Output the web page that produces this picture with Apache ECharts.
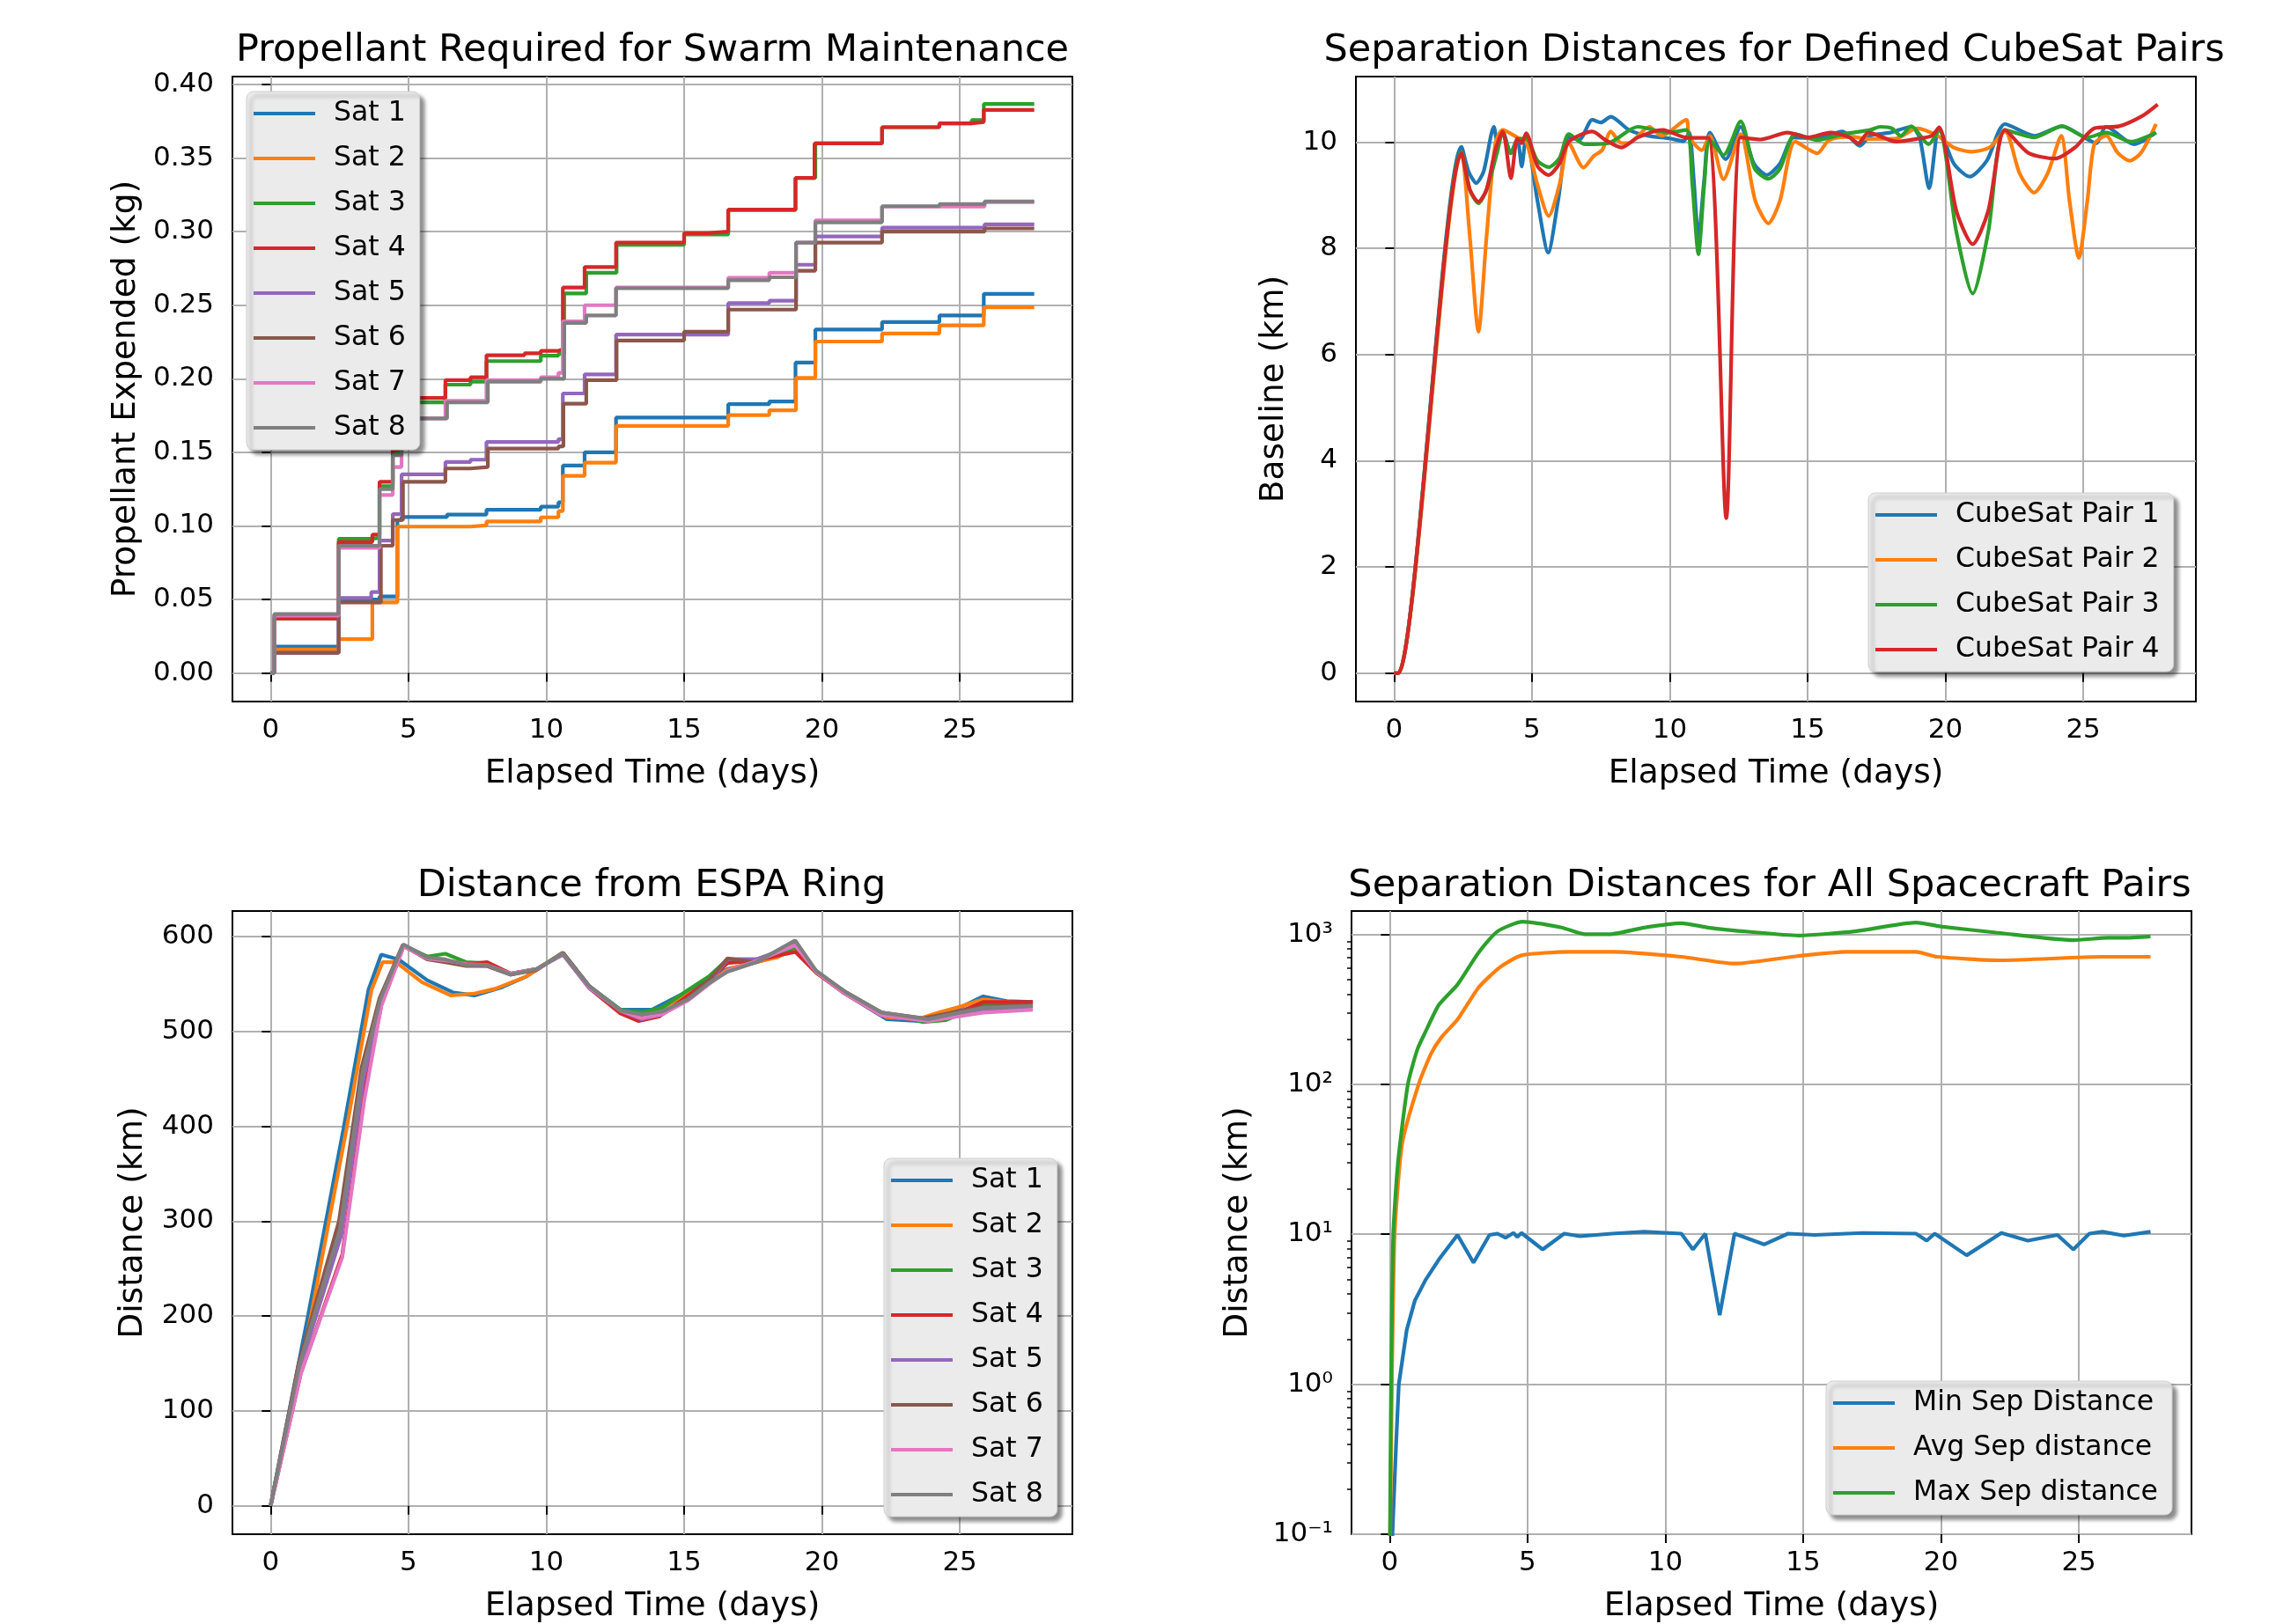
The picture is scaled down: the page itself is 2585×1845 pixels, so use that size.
<!DOCTYPE html>
<html>
<head>
<meta charset="utf-8">
<script src="https://cdn.jsdelivr.net/npm/echarts@6/dist/echarts.min.js"></script>
<style>
  html, body { margin: 0; padding: 0; background: #fff; }
  #chart { width: 2585px; height: 1845px; }
</style>
</head>
<body>
<div id="chart"></div>
<script>
// ---- ticks / categories ----
const dayTicks = [0, 5, 10, 15, 20, 25]
const propTicks = [0, 0.05, 0.10, 0.15, 0.20, 0.25, 0.30, 0.35, 0.40]
const baseTicks = [0, 2, 4, 6, 8, 10]
const distTicks = [0, 100, 200, 300, 400, 500, 600]
const logTicks = [0.1, 1, 10, 100, 1000]
const logMinor = [0.2, 0.3, 0.4, 0.5, 0.6, 0.7, 0.8, 0.9, 2, 3, 4, 5, 6, 7, 8, 9,
  20, 30, 40, 50, 60, 70, 80, 90, 200, 300, 400, 500, 600, 700, 800, 900]
const satNames = ['Sat 1', 'Sat 2', 'Sat 3', 'Sat 4', 'Sat 5', 'Sat 6', 'Sat 7', 'Sat 8']
const pairNames = ['CubeSat Pair 1', 'CubeSat Pair 2', 'CubeSat Pair 3', 'CubeSat Pair 4']
const sepNames = ['Min Sep Distance', 'Avg Sep distance', 'Max Sep distance']

// ---- propellant expended (kg), [day, value] step points ----
const prop1 = [[0,0],[0.13,0.018],[2.47,0.05],[3.95,0.052],[4.6,0.104],[4.75,0.106],[6.4,0.1077],[7.83,0.111],[9.8,0.113],[10.44,0.116],[10.6,0.141],[11.39,0.150],[12.53,0.1736],[16.6,0.1827],[18.09,0.1846],[19.04,0.211],[19.76,0.2335],[22.18,0.2385],[24.26,0.243],[25.87,0.2577],[27.7,0.2577]]
const prop2 = [[0,0],[0.13,0.016],[2.47,0.023],[3.69,0.048],[4.6,0.0995],[7.25,0.1003],[7.83,0.103],[9.8,0.1058],[10.44,0.110],[10.6,0.134],[11.39,0.143],[12.53,0.168],[16.6,0.1753],[18.09,0.1786],[19.06,0.2005],[19.76,0.2253],[22.18,0.2308],[24.26,0.2363],[25.87,0.2486],[27.7,0.2486]]
const prop3 = [[0,0],[0.13,0.037],[2.47,0.0912],[3.69,0.092],[3.95,0.127],[4.43,0.15],[4.75,0.184],[6.34,0.196],[7.25,0.198],[7.83,0.212],[9.8,0.2157],[10.44,0.217],[10.65,0.258],[11.45,0.272],[12.55,0.291],[15.0,0.298],[16.6,0.3146],[19.04,0.3365],[19.76,0.360],[22.18,0.371],[24.26,0.3736],[25.43,0.3758],[25.87,0.3868],[27.7,0.3868]]
const prop4 = [[0,0],[0.13,0.037],[2.47,0.089],[3.69,0.094],[3.95,0.130],[4.43,0.152],[4.75,0.187],[6.34,0.199],[7.25,0.201],[7.83,0.216],[9.21,0.2173],[9.8,0.219],[10.44,0.220],[10.6,0.262],[11.39,0.276],[12.53,0.2926],[15.0,0.299],[15.85,0.300],[16.6,0.315],[19.04,0.3365],[19.73,0.360],[22.18,0.371],[24.26,0.3736],[25.43,0.3745],[25.87,0.3827],[27.7,0.3827]]
const prop5 = [[0,0],[0.13,0.0137],[2.47,0.051],[3.65,0.055],[3.95,0.09],[4.43,0.108],[4.75,0.135],[6.34,0.1434],[7.25,0.145],[7.83,0.157],[10.44,0.159],[10.6,0.190],[11.39,0.203],[12.53,0.230],[16.6,0.2514],[18.09,0.253],[19.06,0.2775],[19.76,0.2967],[22.18,0.3027],[25.9,0.305],[27.7,0.305]]
const prop6 = [[0,0],[0.13,0.0137],[2.47,0.048],[4.0,0.0865],[4.43,0.104],[4.8,0.130],[6.34,0.139],[7.25,0.140],[7.88,0.1525],[10.44,0.154],[10.62,0.183],[11.45,0.199],[12.55,0.226],[15.0,0.232],[16.6,0.247],[19.06,0.2734],[19.76,0.2926],[22.18,0.300],[25.9,0.3022],[27.7,0.3022]]
const prop7 = [[0,0],[0.13,0.039],[2.47,0.085],[3.95,0.121],[4.43,0.140],[4.75,0.173],[6.34,0.185],[7.83,0.199],[9.8,0.201],[10.44,0.204],[10.6,0.239],[11.39,0.250],[12.53,0.262],[16.6,0.2687],[18.09,0.272],[19.06,0.2926],[19.76,0.3077],[22.18,0.317],[25.9,0.320],[27.7,0.320]]
const prop8 = [[0,0],[0.13,0.040],[2.47,0.0865],[3.95,0.125],[4.43,0.148],[4.75,0.173],[6.4,0.184],[7.88,0.198],[9.8,0.200],[10.65,0.238],[11.45,0.243],[12.53,0.2615],[16.6,0.267],[18.09,0.269],[19.06,0.2926],[19.76,0.3063],[22.18,0.3173],[24.26,0.3187],[25.9,0.3206],[27.7,0.3206]]

// ---- baseline (km) for defined pairs ----
const pair1 = [[0,0],[0.15,0],[2.45,9.91],[2.7,9.45],[2.98,9.23],[3.25,9.45],[3.62,10.29],[3.75,10.0],[3.94,10.2],[4.23,9.79],[4.47,10.07],[4.63,9.54],[4.79,10.12],[5.2,8.9],[5.59,7.92],[5.95,8.9],[6.34,10.09],[6.72,10.05],[7.19,10.42],[7.5,10.37],[7.86,10.48],[8.52,10.23],[9.2,10.12],[10.0,10.07],[10.5,10.02],[10.7,10.18],[10.87,9.3],[11.04,8.19],[11.25,9.3],[11.45,10.18],[12.03,9.68],[12.57,10.29],[13.05,9.6],[13.52,9.38],[14.0,9.6],[14.5,10.09],[15.35,10.07],[16.26,10.2],[16.9,9.93],[17.27,10.12],[18.0,10.18],[18.76,10.29],[19.07,10.07],[19.41,9.13],[19.77,10.26],[20.3,9.6],[20.88,9.35],[21.5,9.65],[22.16,10.34],[23.22,10.12],[24.23,10.3],[25.03,10.09],[25.46,9.98],[25.83,10.29],[26.84,9.96],[27.64,10.18]]
const pair2 = [[0,0],[0.15,0],[2.45,9.79],[2.75,8.2],[3.06,6.43],[3.35,8.2],[3.67,9.96],[3.94,10.23],[4.47,10.09],[4.79,10.01],[5.2,9.2],[5.61,8.61],[6.0,9.2],[6.34,9.98],[6.87,9.52],[7.24,9.74],[7.55,9.85],[7.86,10.2],[8.25,9.98],[8.6,10.0],[9.26,10.29],[9.7,10.12],[10.6,10.42],[10.7,10.1],[11.16,9.85],[11.45,10.12],[11.95,9.3],[12.57,10.15],[13.1,8.9],[13.58,8.47],[14.0,8.9],[14.55,10.01],[15.35,9.79],[15.78,10.04],[16.6,10.1],[17.2,10.06],[18.22,10.07],[18.97,10.26],[19.71,10.12],[20.3,9.9],[20.94,9.82],[21.6,9.9],[22.16,10.2],[22.7,9.4],[23.22,9.05],[23.7,9.4],[24.2,10.12],[24.5,8.9],[24.84,7.82],[25.15,8.9],[25.4,9.96],[25.83,10.12],[26.25,9.8],[26.68,9.65],[27.1,9.8],[27.64,10.34]]
const pair3 = [[0,0],[0.15,0],[2.45,9.82],[2.75,9.1],[3.06,8.85],[3.35,9.1],[3.73,9.79],[3.94,10.18],[4.23,9.79],[4.47,10.04],[4.79,10.07],[5.2,9.65],[5.61,9.53],[6.0,9.7],[6.34,10.15],[6.92,9.96],[7.77,9.98],[8.84,10.29],[9.9,10.18],[10.6,10.23],[10.82,9.2],[11.04,7.89],[11.25,9.2],[11.45,10.04],[11.95,9.76],[12.57,10.39],[13.08,9.5],[13.58,9.31],[14.0,9.5],[14.55,10.15],[15.35,10.04],[16.3,10.15],[17.27,10.23],[17.64,10.29],[18.06,10.26],[18.38,10.12],[18.76,10.3],[19.39,9.96],[19.77,10.23],[20.4,8.3],[20.99,7.15],[21.55,8.3],[22.16,10.23],[23.22,10.09],[24.23,10.3],[25.14,10.09],[25.83,10.18],[26.73,10.01],[27.64,10.18]]
const pair4 = [[0,0],[0.15,0],[2.45,9.79],[2.75,9.1],[3.06,8.88],[3.35,9.1],[3.67,9.85],[3.94,10.2],[4.24,9.32],[4.47,10.07],[4.63,9.98],[4.79,10.17],[5.2,9.55],[5.61,9.38],[6.0,9.6],[6.34,10.01],[7.19,10.2],[7.67,10.04],[8.25,9.9],[8.84,10.09],[9.74,10.23],[10.65,10.08],[11.4,10.08],[12.05,2.92],[12.57,10.09],[13.3,10.05],[14.27,10.18],[15.03,10.09],[15.83,10.18],[16.52,10.09],[16.84,9.98],[17.21,10.18],[18.22,10.01],[19.07,10.07],[19.5,10.12],[19.77,10.28],[20.4,8.7],[20.99,8.08],[21.55,8.7],[22.16,10.23],[23.0,9.8],[23.97,9.69],[24.7,9.9],[25.4,10.26],[26.3,10.3],[27.16,10.5],[27.7,10.71]]

// ---- distance from ESPA ring (km) ----
const espa1 = [[0,0],[1.36,201],[2.64,397],[3.55,544],[4.01,581],[4.64,576],[5.68,554],[6.63,541],[7.39,538],[8.33,546],[9.28,558],[10.6,583],[11.55,548],[12.69,523],[13.83,523],[14.96,540],[15.9,555],[16.57,566],[17.23,570],[18.37,579],[19.03,591],[19.79,563],[20.83,540],[22.35,513],[23.48,511],[24.24,516],[25.0,525],[25.85,537],[26.7,532],[27.65,531]]
const espa2 = [[0,0],[1.47,201],[2.75,397],[3.66,544],[4.06,573],[4.55,573],[5.49,552],[6.53,538],[7.39,540],[8.14,545],[9.28,558],[10.6,583],[11.55,547],[12.69,521],[13.83,520],[14.96,536],[15.9,552],[16.57,565],[17.23,571],[18.37,578],[19.03,589],[19.79,562],[20.83,540],[22.35,515],[23.48,513],[24.24,520],[25.0,526],[25.85,534],[26.7,531],[27.65,529]]
const espa3 = [[0,0],[1.04,148],[2.54,296],[3.34,458],[3.98,532],[4.83,591],[5.68,579],[6.34,582],[7.1,573],[7.86,572],[8.71,561],[9.66,566],[10.6,583],[11.55,548],[12.69,523],[13.45,520],[14.2,525],[15.15,544],[15.9,558],[16.57,576],[17.61,576],[19.03,588],[19.79,564],[20.83,542],[22.16,520],[23.67,510],[24.5,512],[25.85,528],[27.65,528]]
const espa4 = [[0,0],[1.1,140],[2.6,265],[3.42,440],[4.02,528],[4.83,590],[5.68,578],[6.34,575],[7.1,571],[7.86,573],[8.71,561],[9.66,566],[10.6,582],[11.55,546],[12.69,519],[13.35,511],[14.11,516],[14.96,534],[15.9,554],[16.57,572],[17.61,575],[19.03,584],[19.79,562],[20.83,540],[22.16,517],[23.3,513],[24.43,514],[25.85,531],[27.65,531]]
const espa5 = [[0,0],[1.06,145],[2.56,285],[3.36,450],[3.99,530],[4.81,590],[5.68,577],[6.34,575],[7.1,570],[7.86,569],[8.71,560],[9.66,566],[10.6,581],[11.55,546],[12.69,522],[13.45,513],[14.2,518],[15.15,534],[15.9,552],[16.57,576],[17.61,576],[19.03,591],[19.79,563],[20.83,540],[22.16,518],[23.86,511],[25.85,522],[27.65,525]]
const espa6 = [[0,0],[1.02,150],[2.48,300],[3.3,462],[3.95,535],[4.79,591],[5.68,576],[6.34,573],[7.1,569],[7.86,569],[8.71,560],[9.66,565],[10.6,583],[11.55,548],[12.69,522],[13.45,516],[14.2,519],[15.15,535],[15.9,554],[16.57,577],[17.61,573],[19.03,593],[19.79,563],[20.83,542],[22.16,520],[23.67,514],[25.85,526],[27.65,528]]
const espa7 = [[0,0],[1.1,140],[2.6,262],[3.4,428],[4.02,528],[4.83,590],[5.68,577],[6.34,575],[7.1,571],[7.86,570],[8.71,561],[9.66,566],[10.6,582],[11.55,547],[12.69,522],[13.45,514],[14.2,518],[15.15,533],[15.9,550],[16.57,564],[17.61,574],[19.03,591],[19.79,563],[20.83,540],[22.16,517],[23.86,511],[25.85,520],[27.65,523]]
const espa8 = [[0,0],[1.04,148],[2.52,292],[3.32,455],[3.97,533],[4.81,592],[5.68,578],[6.34,576],[7.1,570],[7.86,570],[8.71,560],[9.66,566],[10.6,582],[11.55,548],[12.69,522],[13.45,518],[14.2,521],[15.15,534],[15.9,551],[16.57,563],[17.61,573],[19.03,596],[19.79,564],[20.83,542],[22.16,520],[23.86,513],[25.85,525],[27.65,527]]

// ---- separation distances, all pairs (km, log) ----
const sepMin = [[0.08,0.05],[0.1,0.1],[0.23,0.39],[0.33,1.0],[0.62,2.31],[0.91,3.6],[1.3,4.96],[1.78,6.77],[2.46,9.9],[3.04,6.47],[3.62,9.9],[3.91,10.1],[4.2,9.48],[4.49,10.2],[4.63,9.6],[4.78,10.2],[5.55,7.92],[6.33,10.1],[6.9,9.7],[8.07,10.1],[9.23,10.4],[10.58,10.1],[11.0,7.92],[11.45,10.1],[11.97,2.89],[12.51,10.1],[13.58,8.55],[14.45,10.1],[15.42,9.9],[17.16,10.2],[19.09,10.1],[19.48,9.06],[19.77,10.1],[20.93,7.24],[22.19,10.2],[23.15,9.06],[24.22,9.9],[24.8,7.92],[25.38,10.1],[25.86,10.4],[26.63,9.8],[27.6,10.4]]
const sepAvg = [[0,0.05],[0.08,1],[0.18,10],[0.45,40],[1.05,100],[1.5,160],[1.88,206],[2.46,270],[3.23,443],[4.0,603],[4.78,724],[6.52,764],[8.07,764],[10.58,708],[12.51,638],[14.84,718],[16.58,764],[19.09,764],[19.86,708],[22.19,671],[25.86,708],[27.6,708]]
const sepMax = [[0,0.05],[0.05,1],[0.13,10],[0.3,30],[0.66,100],[1.0,170],[1.3,224],[1.78,338],[2.46,462],[3.23,758],[3.91,1046],[4.82,1213],[6.23,1109],[7.1,1000],[7.97,1000],[9.23,1109],[10.58,1186],[11.55,1109],[13.1,1037],[14.84,982],[16.87,1046],[19.09,1197],[20.06,1124],[22.0,1027],[24.8,914],[26.05,948],[26.63,948],[27.6,969]]

const colors = ['#1f77b4', '#ff7f0e', '#2ca02c', '#d62728', '#9467bd', '#8c564b', '#e377c2', '#7f7f7f']
const FONT = 'DejaVu Sans'
const xMin = -1.385, xMax = 29.085

const sup = { '-': '⁻', '0': '⁰', '1': '¹', '2': '²', '3': '³' }
function logLabel(v) {
  let e = String(Math.round(Math.log10(v)))
  return '10' + e.split('').map(c => sup[c]).join('')
}

function xAxis(gi) {
  return {
    type: 'value', gridIndex: gi, min: xMin, max: xMax, splitNumber: 6,
    name: 'Elapsed Time (days)', nameLocation: 'middle', nameGap: 63,
    nameTextStyle: { fontFamily: FONT, fontSize: 37.5, color: '#000' },
    axisLine: { show: false },
    axisTick: { show: true, length: 10, lineStyle: { color: '#000', width: 2 }, customValues: dayTicks },
    axisLabel: { fontFamily: FONT, fontSize: 31, color: '#000', margin: 17, customValues: dayTicks },
    splitLine: { show: true, lineStyle: { color: '#b0b0b0', width: 2 } }
  }
}

function yAxis(gi, name, gap, min, max, ticks, split, fmt) {
  return {
    type: 'value', gridIndex: gi, min: min, max: max, splitNumber: split,
    name: name, nameLocation: 'middle', nameGap: gap,
    nameTextStyle: { fontFamily: FONT, fontSize: 37.5, color: '#000' },
    axisLine: { show: false },
    axisTick: { show: true, length: 10, lineStyle: { color: '#000', width: 2 }, customValues: ticks },
    axisLabel: { fontFamily: FONT, fontSize: 31, color: '#000', margin: 21, customValues: ticks, formatter: fmt },
    splitLine: { show: true, lineStyle: { color: '#b0b0b0', width: 2 } }
  }
}

function legend(names, left, top) {
  return {
    orient: 'vertical', left: left, top: top, data: names,
    icon: 'rect', itemWidth: 70, itemHeight: 4, itemGap: 17,
    padding: [8, 16, 8, 8],
    backgroundColor: '#ebebeb', borderColor: '#cfcfcf', borderWidth: 1, borderRadius: 8,
    shadowColor: 'rgba(0,0,0,0.45)', shadowBlur: 4, shadowOffsetX: 5, shadowOffsetY: 5,
    textStyle: { fontFamily: FONT, fontSize: 31.5, color: '#000', lineHeight: 34, padding: [0, 0, 0, 16] },
    selectedMode: false
  }
}

function line(name, data, color, idx, extra) {
  return Object.assign({
    type: 'line', name: name, data: data, xAxisIndex: idx, yAxisIndex: idx,
    symbol: 'none', lineStyle: { color: color, width: 4.2 }, itemStyle: { color: color },
    animation: false
  }, extra || {})
}

const gridStyle = { show: true, borderColor: '#000', borderWidth: 2, backgroundColor: 'transparent' }
function titleAt(text, x, top) {
  return { text: text, left: x, top: top, textAlign: 'center', padding: 0,
    textStyle: { fontFamily: FONT, fontSize: 43, fontWeight: 'normal', color: '#000', lineHeight: 43 } }
}

const propData = [prop1, prop2, prop3, prop4, prop5, prop6, prop7, prop8]
const pairData = [pair1, pair2, pair3, pair4]
const espaData = [espa1, espa2, espa3, espa4, espa5, espa6, espa7, espa8]
const sepData = [sepMin, sepAvg, sepMax]

let series = []
propData.forEach((d, i) => series.push(line(satNames[i], d, colors[i], 0, { step: 'end' })))
pairData.forEach((d, i) => series.push(line(pairNames[i], d, colors[i], 1, { smooth: 0.25 })))
espaData.forEach((d, i) => series.push(line(satNames[i], d, colors[i], 2)))
sepData.forEach((d, i) => series.push(line(sepNames[i], d, colors[i], 3, i > 0 ? { smooth: 0.2 } : {})))

let logAxis = yAxis(3, 'Distance (km)', 110, 0.1, 1430, logTicks, 4, logLabel)
logAxis.type = 'log'
logAxis.logBase = 10
let logMinorAxis = {
  type: 'log', gridIndex: 3, min: 0.1, max: 1430, logBase: 10, position: 'left',
  axisLine: { show: false }, axisLabel: { show: false }, splitLine: { show: false },
  axisTick: { show: true, length: 5, lineStyle: { color: '#000', width: 1.5 }, customValues: logMinor }
}

let option = {
  animation: false,
  backgroundColor: '#fff',
  color: colors,
  title: [
    titleAt('Propellant Required for Swarm Maintenance', 741, 36),
    titleAt('Separation Distances for Defined CubeSat Pairs', 2015, 36),
    titleAt('Distance from ESPA Ring', 740, 985),
    titleAt('Separation Distances for All Spacecraft Pairs', 2010, 985)
  ],
  grid: [
    Object.assign({ left: 264, top: 87, width: 954, height: 710 }, gridStyle),
    Object.assign({ left: 1540, top: 87, width: 954, height: 710 }, gridStyle),
    Object.assign({ left: 264, top: 1035, width: 954, height: 712 }, gridStyle),
    Object.assign({ left: 1535, top: 1035, width: 954, height: 711 }, gridStyle)
  ],
  xAxis: [xAxis(0), xAxis(1), xAxis(2), xAxis(3)],
  yAxis: [
    yAxis(0, 'Propellant Expended (kg)', 102, -0.0194, 0.4054, propTicks, 8, v => v.toFixed(2)),
    yAxis(1, 'Baseline (km)', 74, -0.535, 11.235, baseTicks, 6),
    yAxis(2, 'Distance (km)', 94, -30, 627, distTicks, 6),
    logAxis,
    logMinorAxis
  ],
  legend: [
    legend(satNames, 280, 104),
    legend(pairNames, 2122, 560),
    legend(satNames, 1004, 1316),
    legend(sepNames, 2074, 1569)
  ],
  series: series
}

let myChart = echarts.init(document.getElementById('chart'))
myChart.setOption(option)
</script>
</body>
</html>
